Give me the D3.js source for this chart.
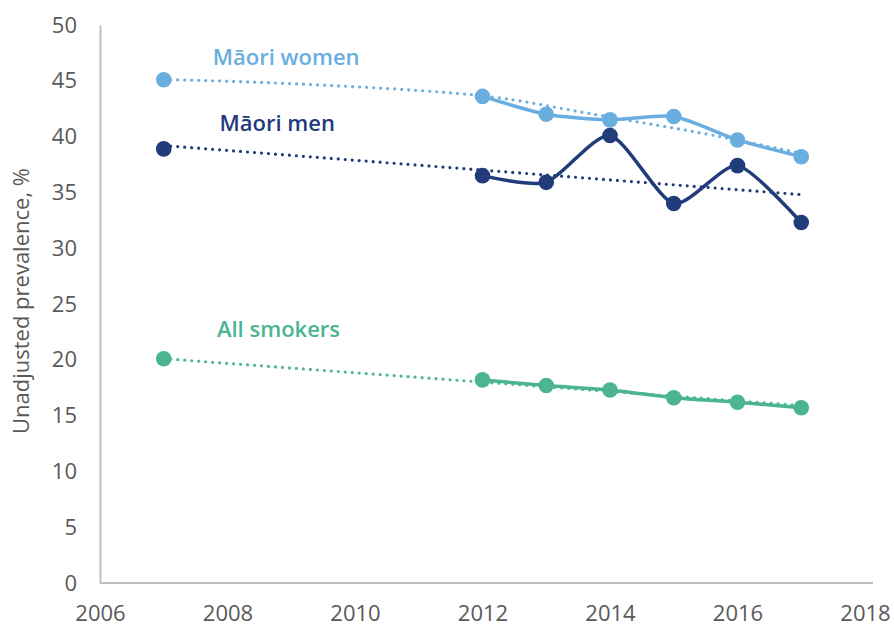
<!DOCTYPE html>
<html><head><meta charset="utf-8">
<script src="https://cdn.jsdelivr.net/npm/d3@7"></script>
<style>
body{margin:0;background:#fff;}
svg{display:block;font-family:"Open Sans",sans-serif;}
</style></head>
<body><svg id="c" width="894" height="628"></svg>
<script>
const years = [2007, 2012, 2013, 2014, 2015, 2016, 2017];
const maoriWomen = [45.1, 43.6, 42.0, 41.5, 41.8, 39.7, 38.2];
const maoriMen = [38.9, 36.5, 35.9, 40.1, 34.0, 37.4, 32.3];
const allSmokers = [20.1, 18.2, 17.7, 17.3, 16.6, 16.2, 15.7];
const trendYears = [2007, 2008, 2010, 2012, 2013, 2014, 2015, 2016, 2017];
const womenTrend = [45.1, 45.0, 44.5, 43.8, 42.8, 41.7, 40.8, 39.7, 38.5];
const menTrendYears = [2007, 2017];
const menTrend = [39.2, 34.8];
const allTrendYears = [2007, 2017];
const allTrend = [20.1, 15.9];
const xTicks = [2006, 2008, 2010, 2012, 2014, 2016, 2018];
const yTicks = [0, 5, 10, 15, 20, 25, 30, 35, 40, 45, 50];
const seriesNames = ["Māori women", "Māori men", "All smokers"];
const colors = ["#6aaee0", "#213b7b", "#4bb593"];

const svg = d3.select("#c");
const x = d3.scaleLinear().domain([2006, 2018]).range([100, 865]);
const y = d3.scaleLinear().domain([0, 50]).range([583, 25]);

// axes
const yAxis = svg.append("g").attr("transform", `translate(${x(2006)},0)`)
  .call(d3.axisLeft(y).tickValues(yTicks).tickSize(0).tickPadding(23).tickFormat(d3.format("d")));
const xAxis = svg.append("g").attr("transform", `translate(0,${y(0)})`)
  .call(d3.axisBottom(x).tickValues(xTicks).tickSize(0).tickPadding(22).tickFormat(d3.format("d")));
[yAxis, xAxis].forEach(g => {
  g.select(".domain").attr("stroke", "#bfbfbf").attr("stroke-width", 2);
  g.selectAll("text").attr("fill", "#595959").style("font-size", "22px").style("font-family", "'Open Sans',sans-serif");
});
xAxis.select(".domain").attr("d", `M${x(2006)},0H${x(2018)+8}`);

svg.append("text")
  .attr("transform", `translate(23,${(y(0)+y(50))/2 - 12 + 9}) rotate(-90)`)
  .attr("text-anchor", "middle")
  .attr("dominant-baseline", "middle")
  .attr("fill", "#595959").style("font-size", "22px")
  .text("Unadjusted prevalence, %");

const series = [
  {vals: maoriWomen, tY: trendYears, tV: womenTrend},
  {vals: maoriMen, tY: menTrendYears, tV: menTrend},
  {vals: allSmokers, tY: allTrendYears, tV: allTrend}
];

const solid = d3.line().x(d => x(d[0])).y(d => y(d[1])).curve(d3.curveCardinal.tension(0.3));
const trendLine = d3.line().x(d => x(d[0])).y(d => y(d[1])).curve(d3.curveBasis);

series.forEach((s, i) => {
  const pts = years.map((yr, j) => [yr, s.vals[j]]);
  const tpts = s.tY.map((yr, j) => [yr, s.tV[j]]);
  svg.append("path").attr("d", trendLine(tpts)).attr("fill", "none")
    .attr("stroke", colors[i]).attr("stroke-width", 3.2).attr("stroke-linecap", "round")
    .attr("stroke-dasharray", "0 7");
  svg.append("path").attr("d", solid(pts.slice(1))).attr("fill", "none")
    .attr("stroke", colors[i]).attr("stroke-width", 3.5);
  svg.append("g").selectAll("circle").data(pts).join("circle")
    .attr("cx", d => x(d[0])).attr("cy", d => y(d[1])).attr("r", 7.8)
    .attr("fill", colors[i]);
});

const labels = [
  {text: seriesNames[0], yr: 2008.92, v: 46.95},
  {text: seriesNames[1], yr: 2008.78, v: 41.05},
  {text: seriesNames[2], yr: 2008.8, v: 22.6}
];
labels.forEach((l, i) => {
  svg.append("text").attr("x", x(l.yr)).attr("y", y(l.v)).attr("text-anchor", "middle")
    .attr("dominant-baseline", "middle")
    .attr("fill", colors[i]).style("font-size", "22px").style("font-weight", 600)
    .text(l.text);
});
</script></body></html>
